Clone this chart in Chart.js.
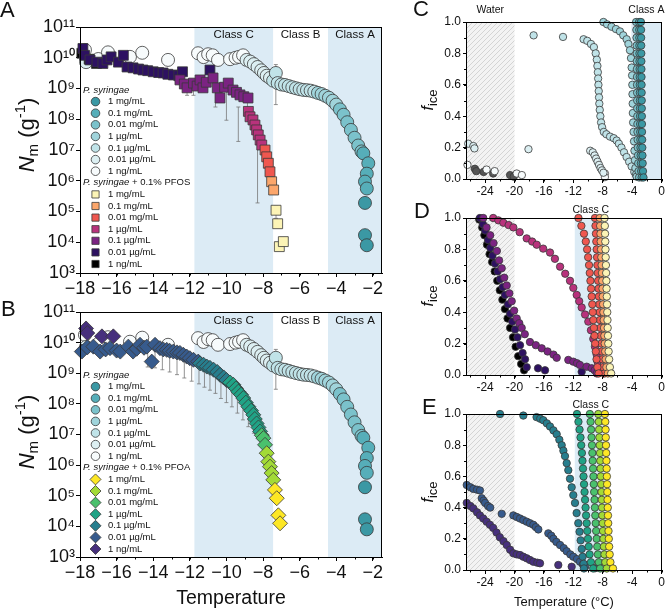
<!DOCTYPE html>
<html>
<head>
<meta charset="utf-8">
<title>INP spectra</title>
<script src="https://cdn.jsdelivr.net/npm/chart.js@4.4.1/dist/chart.umd.min.js"></script>
<style>
  body { margin: 0; background: #fff; }
  #fig { position: relative; width: 666px; height: 612px; }
  #fig canvas { position: absolute; left: 0; top: 0; }
</style>
</head>
<body>
<div id="fig">
  <canvas id="chartA" width="666" height="612"></canvas>
  <canvas id="chartB" width="666" height="612"></canvas>
  <canvas id="chartC" width="666" height="612"></canvas>
  <canvas id="chartD" width="666" height="612"></canvas>
  <canvas id="chartE" width="666" height="612"></canvas>
</div>
<script>
const FAM = '"Liberation Sans", Arial, sans-serif'

// legend order: 1 mg/mL ... 1 ng/mL
const concLabels = ['1 mg/mL', '0.1 mg/mL', '0.01 mg/mL', '1 µg/mL', '0.1 µg/mL', '0.01 µg/mL', '1 ng/mL']
const psColors   = ['#3b98a4', '#56aeb9', '#7bc2cb', '#a0d4db', '#c0e3e8', '#dceff2', '#f7fbfc']
const pfosColors = ['#fcf4b6', '#fba66b', '#ef574f', '#b8327c', '#7b2382', '#2d1161', '#000000']
const pfoaColors = ['#fde725', '#a2da37', '#4ac16d', '#20a386', '#277e8e', '#375b8d', '#47307d']
const waterColor = '#555555'

const nmTicks = [1e3, 1e4, 1e5, 1e6, 1e7, 1e8, 1e9, 1e10, 1e11]
const fSteps = [1.0, 0.95, 0.9, 0.85, 0.8, 0.75, 0.7, 0.65, 0.6, 0.55, 0.5, 0.45, 0.4, 0.35, 0.3, 0.25, 0.2, 0.15, 0.1, 0.05, 0.01]

// temperature bands (°C)
const bandsNm = [[-11.75, -7.45, true, 'Class C'], [-7.45, -4.45, false, 'Class B'], [-4.45, -1.5, true, 'Class A']]
const bandsC = [[-4.1, 0, true, 'Class A']]
const bandsDE = [[-11.8, -7.45, true, 'Class C']]
const waterZone = [-26.6, -20]

// ---- N_m (g-1) vs temperature, P. syringae (circles) ----
const ps1ng   = [[-17.73,1.8e10],[-17.0,9.1e9],[-16.47,1.5e10],[-15.27,1.07e10],[-14.6,1.45e10],[-13.19,8.5e9],[-11.55,1.4e10],[-11.25,1.05e10],[-11.0,1.3e10],[-10.75,1.2e10],[-10.46,8.5e9],[-9.8,9e9],[-9.5,1e10],[-9.31,1.07e10],[-9.09,1.2e10]]
const ps10ng  = [[-17.67,7.2e9],[-8.9,8.5e9],[-8.7,7.5e9],[-8.5,6.2e9],[-8.3,5e9],[-8.1,3.9e9],[-7.95,3.2e9],[-7.8,2.6e9],[-7.62,2.2e9]]
const ps100ng = [[-7.45,1.8e9],[-7.3,3.2e9],[-7.2,1.5e9],[-7.0,1.35e9],[-6.8,1.3e9],[-6.6,1.2e9],[-6.4,1.1e9],[-6.2,1.02e9],[-6.0,9.5e8],[-5.8,9e8],[-5.6,8.8e8],[-5.4,8.5e8],[-5.2,7.9e8]]
const ps1ug   = [[-5.0,7.2e8],[-4.8,6.6e8],[-4.6,5.8e8],[-4.4,5e8],[-4.2,4e8],[-4.0,3e8]]
const ps10ug  = [[-3.8,2.1e8],[-3.6,1.4e8],[-3.4,8e7],[-3.2,4.5e7],[-3.0,2.5e7],[-2.8,1.4e7],[-2.62,9e6]]
const ps100ug = [[-2.52,7.8e6],[-2.25,3.7e6],[-2.33,1.7e6],[-2.43,9.4e5],[-2.33,5.6e5]]
const ps1mg   = [[-2.43,1.9e5],[-2.43,1.7e4],[-2.33,8e3]]
const errPs = [[-7.3, 3e8, 6e9]]

// ---- PFOS (squares) ----
const pfos1ng   = [[-17.9,1.4e10],[-17.5,9e9],[-17.1,6.5e9]]
const pfos10ng  = [[-17.84,2.0e10],[-17.75,1.2e10],[-17.45,8.5e9],[-17.07,7.2e9],[-16.75,6.5e9],[-16.52,8.5e9],[-16.3,1.07e10],[-15.9,7.2e9],[-15.63,1.2e10],[-15.43,5e9],[-15.1,4.7e9],[-14.8,4.3e9],[-14.56,4e9],[-14.3,3.8e9],[-14.0,3.5e9],[-13.7,3.3e9],[-13.46,3.2e9],[-13.2,2.9e9],[-12.9,2.75e9],[-12.6,2.6e9],[-12.4,3.5e9],[-10.9,4e9]]
const pfos100ng = [[-12.54,1.9e9],[-12.3,1.4e9],[-12.15,1.05e9],[-11.8,1.5e9],[-11.6,1.2e9],[-11.44,1.9e9],[-11.28,1.05e9],[-11.1,1.6e9],[-10.73,2.2e9],[-10.5,1.05e9],[-10.35,4.9e8],[-10.1,1.1e9],[-9.9,1.5e9],[-9.64,8.9e8],[-9.45,7.5e8],[-9.26,6.2e8],[-9.05,5.4e8],[-8.82,4.9e8]]
const pfos1ug   = [[-8.8,1.8e8],[-8.71,1.2e8],[-8.55,9.5e7],[-8.44,6.5e7],[-8.35,4.5e7],[-8.26,3.1e7],[-8.16,2.1e7],[-8.07,1.45e7]]
const pfos10ug  = [[-7.89,1e7],[-7.8,6e6],[-7.71,3.7e6],[-7.62,1.95e6]]
const pfos100ug = [[-7.53,9.3e5],[-7.42,5e5]]
const pfos1mg   = [[-7.29,1.1e5],[-7.2,4e4],[-7.11,7.2e3],[-6.89,1.05e4]]
const errPfos = [[-10.95,1.3e9,4e9],[-10.6,2.5e8,1.1e9],[-10.0,9.3e7,8e8],[-9.35,1.9e7,2.5e8],[-8.85,1.8e8,6e8],[-8.3,1.9e5,7.4e7],[-7.29,6e4,1.5e5],[-11.8,6e8,1.5e9],[-12.15,6e8,1.3e9]]

// ---- PFOA (diamonds) ----
const pfoa1ng   = [[-17.67,2.9e10],[-17.6,2.05e10],[-16.8,1.6e10],[-16.18,1.6e10]]
const pfoa10ng  = [[-17.9,5.1e9],[-17.6,7e9],[-17.27,7.4e9],[-16.9,5.1e9],[-16.6,6e9],[-16.36,6.6e9],[-16.0,5.5e9],[-15.8,5.1e9],[-15.36,7.4e9],[-15.1,5.1e9],[-14.9,6.3e9],[-14.72,8.5e9],[-14.5,6.8e9],[-14.35,7.4e9],[-14.08,2.4e9],[-13.9,8.5e9],[-13.63,6.6e9],[-13.45,6e9],[-13.26,5.8e9],[-13.1,5.4e9],[-12.9,5.1e9],[-12.7,4.8e9],[-12.54,4.6e9],[-12.35,4e9],[-12.17,3.5e9],[-12.0,3.1e9],[-11.8,2.75e9],[-11.54,2.4e9]]
const pfoa100ng = [[-11.44,2.1e9],[-11.25,1.9e9],[-11.07,1.65e9],[-10.9,1.5e9],[-10.7,1.3e9],[-10.5,1.1e9],[-10.35,8.9e8],[-10.15,7.3e8],[-10.0,6e8]]
const pfoa1ug   = [[-9.8,5e8],[-9.62,4.2e8],[-9.48,3.2e8],[-9.35,2.5e8],[-9.2,2e8],[-9.08,1.55e8],[-8.94,1.1e8],[-8.8,8.1e7],[-8.65,6e7],[-8.53,4.4e7],[-8.45,3.2e7],[-8.35,2.3e7],[-8.25,1.7e7],[-8.16,1.26e7]]
const pfoa10ug  = [[-8.07,9.5e6],[-7.98,7.6e6],[-7.89,4.6e6]]
const pfoa100ug = [[-7.8,2.45e6],[-7.71,1.3e6],[-7.62,8.9e5],[-7.53,5.5e5],[-7.44,3.3e5]]
const pfoa1mg   = [[-7.35,1.55e5],[-7.25,8.3e4],[-7.16,2.3e4],[-7.07,1.26e4]]
const errPfoa = [[-17.0,4e9,1e10],[-14.3,1.6e9,8e9],[-13.9,1.5e9,8e9],[-13.5,1.3e9,6e9],[-13.1,1.1e9,5e9],[-12.7,9e8,4.5e9],[-12.3,7e8,4e9],[-11.9,5.5e8,3e9],[-11.5,4.5e8,2.5e9],[-11.2,3.5e8,2e9],[-10.9,2.8e8,1.6e9],[-10.6,2.2e8,1.3e9],[-10.3,1.5e8,9e8],[-10.0,1.1e8,6.5e8],[-9.7,8e7,5e8],[-9.4,5e7,3e8],[-9.1,3e7,1.8e8],[-8.8,1.8e7,9e7],[-8.5,1.1e7,5e7]]

// ---- f_ice, P. syringae (panel C) ----
const psF1mg   = [-2.8,-2.78,-2.77,-2.76,-2.75,-2.74,-2.73,-2.72,-2.71,-2.7,-2.69,-2.68,-2.67,-2.66,-2.65,-2.63,-2.61,-2.59,-2.56,-2.52,-2.45]
const psF100ug = [-3.05,-3.03,-3.02,-3.01,-3.0,-2.99,-2.98,-2.97,-2.96,-2.95,-2.94,-2.93,-2.92,-2.91,-2.9,-2.88,-2.86,-2.84,-2.81,-2.77,-2.7]
const psF10ug  = [-3.45,-3.42,-3.4,-3.38,-3.37,-3.36,-3.35,-3.34,-3.33,-3.32,-3.31,-3.3,-3.29,-3.28,-3.27,-3.25,-3.23,-3.2,-3.17,-3.12,-3.05]
const psF1ug   = [[-7.9,1.0],[-7.4,0.985],[-6.8,0.97],[-6.2,0.955],[-5.65,0.94],[-5.2,0.915],[-4.74,0.89],[-4.5,0.86],[-4.29,0.82],[-4.15,0.77],[-4.06,0.71],[-4.0,0.66],[-3.97,0.6],[-3.95,0.54],[-3.92,0.48],[-3.9,0.42],[-3.86,0.36],[-3.8,0.3],[-3.74,0.24],[-3.68,0.18],[-3.62,0.12],[-3.55,0.07],[-3.45,0.03],[-3.38,0.015]]
const psF100ng = [[-17.4,0.915],[-13.4,0.905],[-10.6,0.89],[-10.1,0.88],[-9.6,0.86],[-9.2,0.84],[-8.95,0.8],[-8.8,0.76],[-8.72,0.72],[-8.66,0.68],[-8.62,0.64],[-8.58,0.6],[-8.54,0.56],[-8.5,0.52],[-8.46,0.48],[-8.4,0.44],[-8.32,0.4],[-8.22,0.36],[-8.08,0.33],[-7.85,0.3],[-7.5,0.285],[-7.0,0.27],[-6.5,0.26],[-6.1,0.245],[-5.8,0.225],[-5.45,0.2],[-5.1,0.17],[-4.75,0.14],[-4.4,0.11],[-4.06,0.08],[-3.7,0.045],[-3.4,0.02]]
const psF10ng  = [[-26.3,0.225],[-25.6,0.21],[-25.45,0.195],[-18.1,0.19],[-9.7,0.18],[-9.35,0.17],[-9.1,0.15],[-8.9,0.13],[-8.7,0.11],[-8.5,0.09],[-8.3,0.07],[-8.1,0.055],[-7.9,0.04]]
const psF1ng   = [[-26.4,0.09],[-23.8,0.06],[-22.7,0.05],[-19.7,0.035],[-19.0,0.025],[-7.7,0.035],[-7.7,0.012]]
const waterF   = [[-25.4,0.065],[-25.2,0.05],[-24.2,0.045],[-22.9,0.035],[-20.6,0.025],[-20.1,0.015]]

// ---- f_ice, P. syringae + PFOS (panel D) ----
const pfosF1mg   = [-7.75,-7.71,-7.68,-7.65,-7.62,-7.59,-7.56,-7.53,-7.5,-7.47,-7.44,-7.41,-7.38,-7.35,-7.32,-7.28,-7.24,-7.19,-7.12,-7.02,-6.85]
const pfosF100ug = [-8.4,-8.35,-8.31,-8.27,-8.23,-8.19,-8.15,-8.11,-8.07,-8.03,-7.99,-7.95,-7.91,-7.87,-7.83,-7.78,-7.73,-7.67,-7.6,-7.5,-7.3]
const pfosF10ugA = [-9.05,-8.98,-8.92,-8.87,-8.82,-8.77,-8.72,-8.67,-8.62,-8.57,-8.52,-8.47,-8.42,-8.37,-8.32,-8.26,-8.2,-8.13,-8.05,-7.95,-7.75]
const pfosF10ugB = [-11.3,-10.9,-10.55,-10.3,-10.12,-9.98,-9.86,-9.76,-9.67,-9.58,-9.5,-9.42,-9.35,-9.28,-9.2,-9.12,-9.03,-8.94,-8.84,-8.72,-8.55]
const pfosF1ug   = [[-22.9,1.0],[-22.2,0.985],[-21.52,0.97],[-20.8,0.955],[-20.16,0.94],[-19.3,0.91],[-18.34,0.87],[-17.6,0.85],[-16.98,0.83],[-16.1,0.805],[-15.17,0.78],[-14.5,0.74],[-13.8,0.69],[-13.1,0.645],[-12.45,0.6],[-12.0,0.555],[-11.54,0.51],[-11.2,0.47],[-10.86,0.43],[-10.4,0.385],[-9.96,0.34],[-9.6,0.285],[-9.28,0.23],[-9.05,0.18],[-8.82,0.13],[-8.7,0.085],[-8.6,0.04]]
const pfosF100ng = [[-24.25,1.0],[-23.8,0.94],[-23.3,0.89],[-22.85,0.84],[-22.4,0.79],[-22.1,0.73],[-21.74,0.68],[-21.4,0.62],[-21.06,0.57],[-20.7,0.52],[-20.38,0.47],[-20.05,0.41],[-19.7,0.36],[-19.35,0.33],[-19.02,0.3],[-18.6,0.26],[-17.9,0.21],[-17.1,0.19],[-16.3,0.17],[-15.5,0.15],[-14.7,0.13],[-14.26,0.11],[-12.68,0.096],[-12.0,0.085],[-11.5,0.075],[-11.1,0.064],[-10.18,0.053],[-9.5,0.043],[-9.1,0.03],[-8.8,0.01]]
const pfosF10ng  = [[-24.7,1.0],[-24.3,0.96],[-24.0,0.92],[-23.6,0.86],[-23.3,0.81],[-23.0,0.76],[-22.65,0.71],[-22.3,0.66],[-21.97,0.61],[-21.6,0.56],[-21.3,0.51],[-20.9,0.45],[-20.6,0.39],[-20.3,0.34],[-19.93,0.29],[-19.6,0.24],[-19.25,0.19],[-18.9,0.14],[-18.57,0.1],[-18.34,0.05],[-16.8,0.043],[-15.85,0.03],[-10.86,0.02]]
const pfosF1ng   = [[-24.8,0.99],[-24.4,0.94],[-24.1,0.89],[-23.75,0.83],[-23.4,0.77],[-23.05,0.72],[-22.7,0.66],[-22.35,0.6],[-22.0,0.54],[-21.65,0.48],[-21.3,0.42],[-20.95,0.36],[-20.6,0.3],[-20.2,0.24],[-19.85,0.18],[-19.5,0.12],[-19.1,0.07],[-18.7,0.03]]

// ---- f_ice, P. syringae + PFOA (panel E) ----
const pfoaF1mg   = [-7.7,-7.65,-7.61,-7.58,-7.55,-7.52,-7.49,-7.46,-7.43,-7.4,-7.37,-7.34,-7.31,-7.28,-7.25,-7.21,-7.17,-7.12,-7.05,-6.95,-6.6]
const pfoaF100ug = [-8.6,-8.54,-8.49,-8.45,-8.41,-8.37,-8.33,-8.29,-8.25,-8.21,-8.17,-8.13,-8.09,-8.05,-8.0,-7.95,-7.9,-7.84,-7.76,-7.65,-7.45]
const pfoaF10ug  = [-9.75,-9.65,-9.58,-9.52,-9.46,-9.41,-9.36,-9.31,-9.26,-9.21,-9.16,-9.11,-9.06,-9.01,-8.95,-8.89,-8.82,-8.74,-8.65,-8.53,-8.35]
const pfoaF1ug   = [-11.5,-11.3,-11.15,-11.02,-10.92,-10.83,-10.75,-10.68,-10.61,-10.54,-10.47,-10.4,-10.33,-10.26,-10.18,-10.1,-10.0,-9.9,-9.78,-9.6,-9.3]
const pfoaF100ng = [[-21.97,1.0],[-18.8,0.99],[-17.0,0.98],[-16.5,0.97],[-16.08,0.96],[-15.6,0.94],[-15.17,0.92],[-14.7,0.895],[-14.26,0.87],[-13.9,0.835],[-13.58,0.8],[-13.35,0.765],[-13.13,0.73],[-12.9,0.685],[-12.68,0.64],[-12.45,0.585],[-12.22,0.53],[-12.0,0.48],[-11.77,0.43],[-11.55,0.365],[-11.32,0.3],[-11.15,0.245],[-11.0,0.19],[-10.85,0.135],[-10.73,0.085],[-10.6,0.04],[-10.55,0.01]]
const pfoaF10ng  = [[-26.5,0.545],[-26.0,0.53],[-25.6,0.52],[-25.1,0.515],[-24.7,0.51],[-24.46,0.46],[-24.2,0.445],[-24.0,0.43],[-23.6,0.41],[-23.3,0.4],[-21.74,0.36],[-20.16,0.35],[-19.7,0.34],[-19.25,0.33],[-18.8,0.32],[-18.34,0.31],[-17.9,0.3],[-17.44,0.29],[-17.1,0.275],[-16.76,0.26],[-15.4,0.235],[-15.0,0.22],[-14.7,0.2],[-14.3,0.18],[-13.8,0.16],[-13.3,0.14],[-12.9,0.12],[-12.4,0.1],[-12.0,0.085],[-11.5,0.07],[-11.1,0.053],[-10.7,0.035],[-10.4,0.02]]
const pfoaF1ng   = [[-26.5,0.43],[-26.0,0.41],[-25.6,0.395],[-25.1,0.37],[-24.7,0.35],[-24.25,0.33],[-23.8,0.31],[-23.35,0.29],[-22.9,0.27],[-22.45,0.24],[-22.0,0.21],[-21.5,0.185],[-21.06,0.16],[-20.6,0.13],[-20.16,0.107],[-19.7,0.1],[-19.25,0.096],[-18.8,0.085],[-18.34,0.075],[-17.9,0.064],[-17.44,0.053],[-16.9,0.047],[-16.53,0.043],[-14.04,0.032],[-12.22,0.021],[-9.05,0.011]]

// ---------- helpers ----------
const pts = arr => arr.map(p => ({ x: p[0], y: p[1] }))
const streak = xs => xs.map((x, i) => ({ x: x, y: fSteps[i] }))
const font = (s, it) => (it ? 'italic ' : '') + s + 'px ' + FAM

function mk(data, color, style, r, order) {
  return { data, backgroundColor: color, borderColor: '#383838', borderWidth: 0.8,
    pointStyle: style, pointRadius: r, pointHoverRadius: r, order, clip: false }
}

const SUP = { '0': '⁰', '1': '¹', '2': '²', '3': '³', '4': '⁴', '5': '⁵', '6': '⁶', '7': '⁷', '8': '⁸', '9': '⁹' }
const powLabel = v => '10' + String(Math.round(Math.log10(v))).split('').map(d => SUP[d]).join('')
const minus = v => (v < 0 ? '\u2212' + Math.abs(v) : String(v))

function marker(ctx, style, x, y, r) {
  ctx.beginPath()
  if (style === 'rect') ctx.rect(x - r, y - r, 2 * r, 2 * r)
  else if (style === 'rectRot') { ctx.moveTo(x - r, y); ctx.lineTo(x, y - r); ctx.lineTo(x + r, y); ctx.lineTo(x, y + r); ctx.closePath() }
  else ctx.arc(x, y, r, 0, Math.PI * 2)
  ctx.fill(); ctx.stroke()
}

function rich(ctx, parts, x, y, rot, align) {
  ctx.save()
  ctx.translate(x, y); ctx.rotate(rot || 0)
  let w = 0
  parts.forEach(p => { ctx.font = p.f; p.w = ctx.measureText(p.t).width; w += p.w })
  let cx = align === 'left' ? 0 : -w / 2
  ctx.textBaseline = 'middle'; ctx.textAlign = 'left'; ctx.fillStyle = '#111'
  parts.forEach(p => { ctx.font = p.f; ctx.fillText(p.t, cx, p.dy || 0); cx += p.w })
  ctx.restore()
}

function hatch(ctx) {
  const c = document.createElement('canvas'); c.width = 5; c.height = 5
  const g = c.getContext('2d')
  g.fillStyle = '#f3f3f3'; g.fillRect(0, 0, 5, 5)
  g.strokeStyle = '#d0d0d0'; g.lineWidth = 0.9
  g.beginPath(); g.moveTo(0, 5); g.lineTo(5, 0); g.moveTo(-1, 1); g.lineTo(1, -1); g.moveTo(4, 6); g.lineTo(6, 4); g.stroke()
  return ctx.createPattern(c, 'repeat')
}

// background bands, hatching, error bars, frame and minor ticks
const backPlugin = {
  id: 'back',
  beforeDatasetsDraw(chart, args, o) {
    const { ctx, chartArea: a, scales: { x, y } } = chart
    ctx.save()
    ctx.beginPath(); ctx.rect(a.left, a.top, a.width, a.height); ctx.clip()
    if (o.water) {
      const x0 = x.getPixelForValue(o.water[0]), x1 = x.getPixelForValue(o.water[1])
      ctx.fillStyle = hatch(ctx); ctx.fillRect(x0, a.top, x1 - x0, a.height)
    }
    (o.bands || []).forEach(b => {
      if (!b[2]) return
      const x0 = x.getPixelForValue(b[0]), x1 = x.getPixelForValue(b[1])
      ctx.fillStyle = '#dcebf5'; ctx.fillRect(x0, a.top, x1 - x0, a.height)
    })
    ctx.restore()
    ctx.save()
    ctx.strokeStyle = '#777'; ctx.lineWidth = 0.8
    ;(o.err || []).forEach(e => {
      const px = x.getPixelForValue(e[0]), lo = y.getPixelForValue(e[1]), hi = y.getPixelForValue(e[2])
      ctx.beginPath()
      ctx.moveTo(px, lo); ctx.lineTo(px, hi)
      ctx.moveTo(px - 2, lo); ctx.lineTo(px + 2, lo)
      ctx.moveTo(px - 2, hi); ctx.lineTo(px + 2, hi)
      ctx.stroke()
    })
    ctx.restore()
  },
  afterDatasetsDraw(chart, args, o) {
    const { ctx, chartArea: a, scales: { x, y } } = chart
    ctx.save(); ctx.strokeStyle = '#000'; ctx.lineWidth = 1
    ctx.strokeRect(Math.round(a.left) + 0.5, Math.round(a.top) + 0.5, Math.round(a.width) - 1, Math.round(a.height))
    ctx.beginPath()
    if (o.minorX) {
      for (let v = Math.ceil(x.min / o.minorX) * o.minorX; v <= x.max + 1e-9; v += o.minorX) {
        const px = Math.round(x.getPixelForValue(v)) + 0.5
        ctx.moveTo(px, a.bottom); ctx.lineTo(px, a.bottom + 2.5)
      }
    }
    if (o.minorY) {
      for (let v = y.min; v <= y.max + 1e-9; v += o.minorY) {
        const py = Math.round(y.getPixelForValue(v)) + 0.5
        ctx.moveTo(a.left, py); ctx.lineTo(a.left - 2, py)
      }
    }
    ctx.stroke()
    ctx.restore()
  }
}

// texts: panel letter, axis titles, class labels, inline legend
const textPlugin = {
  id: 'texts',
  afterDraw(chart, args, o) {
    const { ctx, chartArea: a, scales: { x } } = chart
    ctx.save()
    ctx.fillStyle = '#111'; ctx.textBaseline = 'middle'
    ;(o.bands || []).forEach(b => {
      if (!b[3]) return
      ctx.font = font(o.bandSize); ctx.textAlign = 'center'
      ctx.fillText(b[3], (x.getPixelForValue(b[0]) + x.getPixelForValue(b[1])) / 2, a.top + o.bandDy)
    })
    if (o.water) {
      ctx.font = font(o.bandSize); ctx.textAlign = 'center'
      ctx.fillText('Water', (x.getPixelForValue(o.water[0]) + x.getPixelForValue(o.water[1])) / 2, a.top + o.bandDy)
    }
    ;(o.items || []).forEach(t => rich(ctx, t.parts, t.x, t.y, t.rot, t.align))
    const L = o.legend
    if (L) {
      let yy = L.y
      L.groups.forEach(g => {
        rich(ctx, g.title, L.x, yy, 0, 'left')
        yy += L.row
        g.colors.forEach((c, i) => {
          ctx.fillStyle = c; ctx.strokeStyle = '#383838'; ctx.lineWidth = 0.8
          marker(ctx, g.style, L.x + 12.5, yy, g.r)
          ctx.fillStyle = '#111'; ctx.font = font(9.5); ctx.textAlign = 'left'; ctx.textBaseline = 'middle'
          ctx.fillText(concLabels[i], L.x + 25, yy)
          yy += L.row
        })
      })
    }
    ctx.restore()
  }
}

function tempAxis(min, max, step, size, h, fmt) {
  return { type: 'linear', min, max,
    ticks: { stepSize: step, includeBounds: false, autoSkip: false, maxRotation: 0, color: '#111', font: { family: FAM, size }, padding: 1, callback: fmt },
    grid: { drawOnChartArea: false, tickLength: 4, color: '#000' }, border: { color: '#000' },
    afterFit: s => { s.height = h } }
}
function nmAxis() {
  return { type: 'logarithmic', min: 1e3, max: 1e11,
    afterBuildTicks: s => { s.ticks = nmTicks.map(v => ({ value: v })) },
    ticks: { autoSkip: false, color: '#111', font: { family: FAM, size: 18 }, padding: 1, callback: v => powLabel(v) },
    grid: { drawOnChartArea: false, tickLength: 4, color: '#000' }, border: { color: '#000' },
    afterFit: s => { s.width = 40 } }
}
function fAxis() {
  return { type: 'linear', min: 0, max: 1,
    ticks: { stepSize: 0.2, color: '#111', font: { family: FAM, size: 12 }, padding: 2, callback: v => v.toFixed(1) },
    grid: { drawOnChartArea: false, tickLength: 3, color: '#000' }, border: { color: '#000' },
    afterFit: s => { s.width = 40 } }
}

function panel(id, area, xAx, yAx, xH, datasets, back, texts) {
  return new Chart(document.getElementById(id), {
    type: 'scatter',
    data: { datasets },
    options: {
      responsive: false, animation: false, devicePixelRatio: 1, events: [],
      layout: { padding: { left: area[0] - 40, top: area[1], right: 666 - area[2], bottom: 612 - area[3] - xH } },
      scales: { x: xAx, y: yAx },
      plugins: { legend: { display: false }, tooltip: { enabled: false }, back, texts }
    },
    plugins: [backPlugin, textPlugin]
  })
}

const nmTitle = [{ t: 'N', f: font(22, true) }, { t: 'm', f: font(15), dy: 6 }, { t: ' (g', f: font(22) }, { t: '-1', f: font(15), dy: -7 }, { t: ')', f: font(22) }]
const fTitle = [{ t: 'f', f: font(16, true) }, { t: 'ice', f: font(13), dy: 4 }]
const letter = (s, x, y) => ({ parts: [{ t: s, f: font(22) }], x, y, align: 'left' })

const psNm = [ps1mg, ps100ug, ps10ug, ps1ug, ps100ng, ps10ng, ps1ng]
const pfosNm = [pfos1mg, pfos100ug, pfos10ug, pfos1ug, pfos100ng, pfos10ng, pfos1ng]
const pfoaNm = [pfoa1mg, pfoa100ug, pfoa10ug, pfoa1ug, pfoa100ng, pfoa10ng, pfoa1ng]
const psSets = () => psNm.map((d, i) => mk(pts(d), psColors[i], 'circle', 6.5, 2))

const legendFor = (y, tail, style, r, colors) => ({
  x: 83, y, row: 11.6,
  groups: [
    { title: [{ t: 'P. syringae', f: font(9.5, true) }], style: 'circle', r: 4.3, colors: psColors },
    { title: [{ t: 'P. syringae', f: font(9.5, true) }, { t: tail, f: font(9.5) }], style, r, colors }
  ]
})

// Panel A
panel('chartA', [80, 27, 382, 273], tempAxis(-18, -1.5, 2, 18, 30, minus), nmAxis(), 30,
  psSets().concat(pfosNm.map((d, i) => mk(pts(d), pfosColors[i], 'rect', 7, 1))),
  { bands: bandsNm, err: errPs.concat(errPfos), minorX: 1 },
  { bands: bandsNm, bandSize: 11.5, bandDy: 8,
    items: [letter('A', 0, 11), { parts: nmTitle, x: 28, y: 135, rot: -Math.PI / 2 }],
    legend: legendFor(90, ' + 0.1% PFOS', 'rect', 3.6, pfosColors) })

// Panel B
panel('chartB', [80, 312, 382, 557], tempAxis(-18, -1.5, 2, 18, 30, minus), nmAxis(), 30,
  psSets().concat(pfoaNm.map((d, i) => mk(pts(d), pfoaColors[i], 'rectRot', 7.5, 1))),
  { bands: bandsNm, err: errPs.concat(errPfoa), minorX: 1 },
  { bands: bandsNm, bandSize: 11.5, bandDy: 9,
    items: [letter('B', 1, 310), { parts: nmTitle, x: 28, y: 432, rot: -Math.PI / 2 },
      { parts: [{ t: 'Temperature', f: font(19.5) }], x: 231, y: 599 }],
    legend: legendFor(375, ' + 0.1% PFOA', 'rectRot', 5.5, pfoaColors) })

// Panel C
const psF = [streak(psF1mg), streak(psF100ug), streak(psF10ug), pts(psF1ug), pts(psF100ng), pts(psF10ng), pts(psF1ng)]
panel('chartC', [466, 22, 662, 179], tempAxis(-26.6, 0, 4, 12, 25), fAxis(), 25,
  psF.map((d, i) => mk(d, psColors[i], 'circle', 3.7, 1)).concat([mk(pts(waterF), waterColor, 'circle', 3.7, 2)]),
  { bands: bandsC, water: waterZone, minorX: 2, minorY: 0.1 },
  { bands: bandsC, water: waterZone, bandSize: 10.5, bandDy: -12,
    items: [letter('C', 413, 10), { parts: fTitle, x: 429, y: 100, rot: -Math.PI / 2 }] })

// Panel D
const pfosF = [streak(pfosF1mg), streak(pfosF100ug), streak(pfosF10ugA).concat(streak(pfosF10ugB)), pts(pfosF1ug), pts(pfosF100ng), pts(pfosF10ng), pts(pfosF1ng)]
panel('chartD', [466, 218, 662, 375], tempAxis(-26.6, 0, 4, 12, 25), fAxis(), 25,
  pfosF.map((d, i) => mk(d, pfosColors[i], 'circle', 3.7, 1)),
  { bands: bandsDE, water: waterZone, minorX: 2, minorY: 0.1 },
  { bands: bandsDE, bandSize: 10.5, bandDy: -8,
    items: [letter('D', 414, 212), { parts: fTitle, x: 429, y: 296, rot: -Math.PI / 2 }] })

// Panel E
const pfoaF = [streak(pfoaF1mg), streak(pfoaF100ug), streak(pfoaF10ug), streak(pfoaF1ug), pts(pfoaF100ng), pts(pfoaF10ng), pts(pfoaF1ng)]
panel('chartE', [466, 414, 662, 570], tempAxis(-26.6, 0, 4, 12, 25), fAxis(), 25,
  pfoaF.map((d, i) => mk(d, pfoaColors[i], 'circle', 3.7, 1)),
  { bands: bandsDE, water: waterZone, minorX: 2, minorY: 0.1 },
  { bands: bandsDE, bandSize: 10.5, bandDy: -9,
    items: [letter('E', 422, 408), { parts: fTitle, x: 429, y: 492, rot: -Math.PI / 2 },
      { parts: [{ t: 'Temperature (°C)', f: font(13) }], x: 564, y: 602 }] })
</script>
</body>
</html>
